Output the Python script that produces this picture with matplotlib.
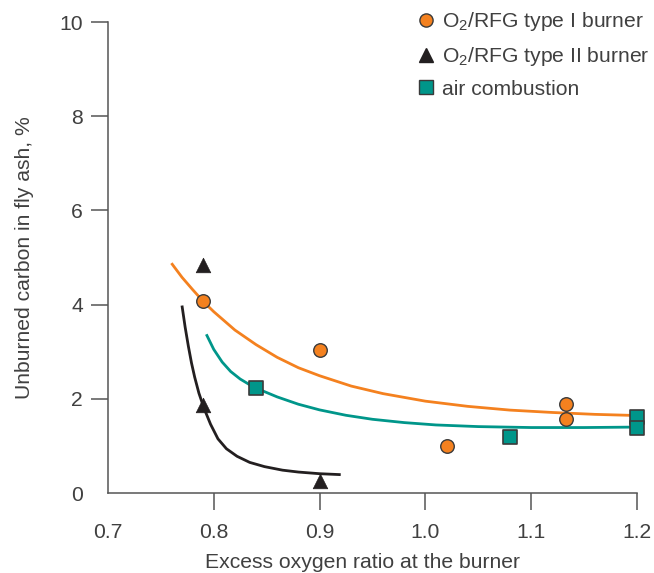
import numpy as np
import matplotlib
matplotlib.use('Agg')
import matplotlib.pyplot as plt
from matplotlib.lines import Line2D

plt.rcParams['font.family'] = ['Liberation Sans', 'DejaVu Sans']
plt.rcParams['mathtext.fontset'] = 'custom'
plt.rcParams['mathtext.rm'] = 'Liberation Sans'
plt.rcParams['mathtext.it'] = 'Liberation Sans:italic'

# measured points
type1_x = [0.79, 0.90, 1.02, 1.133, 1.133]
type1_y = [4.07, 3.04, 1.00, 1.88, 1.58]
type2_x = [0.79, 0.79, 0.90]
type2_y = [4.84, 1.87, 0.25]
air_x = [0.84, 1.08, 1.20, 1.20]
air_y = [2.23, 1.19, 1.62, 1.38]

# trend lines
type1_fit_x = [0.76, 0.77, 0.78, 0.79, 0.80, 0.82, 0.84, 0.86, 0.88, 0.90, 0.93, 0.96,
               1.00, 1.04, 1.08, 1.12, 1.16, 1.20]
type1_fit_y = [4.88, 4.58, 4.32, 4.07, 3.85, 3.46, 3.15, 2.88, 2.66, 2.49, 2.27, 2.11,
               1.95, 1.84, 1.76, 1.71, 1.67, 1.645]
type2_fit_x = [0.770, 0.773, 0.776, 0.779, 0.782, 0.786, 0.791, 0.797, 0.804, 0.812,
               0.822, 0.834, 0.848, 0.865, 0.880, 0.900, 0.920]
type2_fit_y = [3.98, 3.52, 3.12, 2.76, 2.46, 2.12, 1.79, 1.46, 1.15, 0.94,
               0.78, 0.65, 0.56, 0.485, 0.445, 0.41, 0.39]
air_fit_x = [0.793, 0.800, 0.808, 0.816, 0.825, 0.835, 0.845, 0.860, 0.880, 0.900,
             0.925, 0.950, 0.980, 1.010, 1.050, 1.100, 1.150, 1.200]
air_fit_y = [3.37, 3.05, 2.78, 2.58, 2.42, 2.285, 2.18, 2.04, 1.885, 1.765,
             1.65, 1.565, 1.495, 1.445, 1.41, 1.39, 1.39, 1.40]

xticks = [0.8, 0.9, 1.0, 1.1, 1.2]
xtick_labels = ['0.8', '0.9', '1.0', '1.1', '1.2']
yticks = [2, 4, 6, 8, 10]

orange = '#F4811F'
teal = '#00968A'
black = '#231F20'
edge = '#3a3a3a'
text_col = '#404040'
fs = 15.2

fig = plt.figure(figsize=(6.54, 5.73), dpi=100)
ax = fig.add_axes([0.165, 0.1396, 0.809, 0.822])

ax.plot(type1_fit_x, type1_fit_y, color=orange, lw=2.0, zorder=2, clip_on=False,
        solid_capstyle='butt')
ax.plot(air_fit_x, air_fit_y, color=teal, lw=2.0, zorder=2, clip_on=False,
        solid_capstyle='butt')
ax.plot(type2_fit_x, type2_fit_y, color=black, lw=2.0, zorder=2, clip_on=False,
        solid_capstyle='butt')

ax.scatter(type1_x, type1_y, s=95, marker='o', color=orange, edgecolor=edge, linewidth=1, zorder=3, clip_on=False)
ax.scatter(type2_x, type2_y, s=110, marker='^', color=black, edgecolor=black, linewidth=0.5, zorder=3, clip_on=False)
ax.scatter(air_x, air_y, s=110, marker='s', color=teal, edgecolor=edge, linewidth=1.2, zorder=3, clip_on=False)

ax.set_xlim(0.7, 1.2)
ax.set_ylim(0, 10)
ax.spines['top'].set_visible(False)
ax.spines['right'].set_visible(False)
for s in ['left', 'bottom']:
    ax.spines[s].set_color('#555555')
    ax.spines[s].set_linewidth(1.1)

ax.set_xticks(xticks)
ax.set_xticklabels(xtick_labels)
ax.set_yticks(yticks)
ax.tick_params(axis='both', direction='out', length=12, width=1.1, color='#555555',
               labelsize=fs, labelcolor=text_col)
ax.tick_params(axis='x', pad=9.5)
ax.tick_params(axis='y', pad=6)
# corner labels without tick marks
ax.annotate('0.7', xy=(0.7, 0), xycoords=('data', 'axes fraction'), xytext=(0, -21.5),
            textcoords='offset points', ha='center', va='top', fontsize=fs, color=text_col)
ax.annotate('0', xy=(0, 0), xycoords=('axes fraction', 'data'), xytext=(-18, 0),
            textcoords='offset points', ha='right', va='center_baseline', fontsize=fs, color=text_col)

ax.set_xlabel('Excess oxygen ratio at the burner', fontsize=fs, color=text_col)
ax.xaxis.set_label_coords(0.481, -0.147, transform=ax.transAxes)
ax.xaxis.label.set_va('center')
ax.set_ylabel('Unburned carbon in fly ash, %', fontsize=fs, color=text_col, labelpad=18)

handles = [
    Line2D([], [], ls='none', marker='o', markersize=9.5, markerfacecolor=orange, markeredgecolor=edge),
    Line2D([], [], ls='none', marker='^', markersize=10, markerfacecolor=black, markeredgecolor=black),
    Line2D([], [], ls='none', marker='s', markersize=9.5, markerfacecolor=teal, markeredgecolor=edge),
]
labels = ['O$_2$/RFG type I burner', 'O$_2$/RFG type II burner', 'air combustion']
leg = fig.legend(handles, labels, loc='upper left', bbox_to_anchor=(0.638, 0.982),
                 frameon=False, fontsize=fs, handlelength=0.8, handletextpad=0.35,
                 labelspacing=0.55, borderpad=0, borderaxespad=0)
for t in leg.get_texts():
    t.set_color(text_col)

fig.savefig('out.png', dpi=100)
